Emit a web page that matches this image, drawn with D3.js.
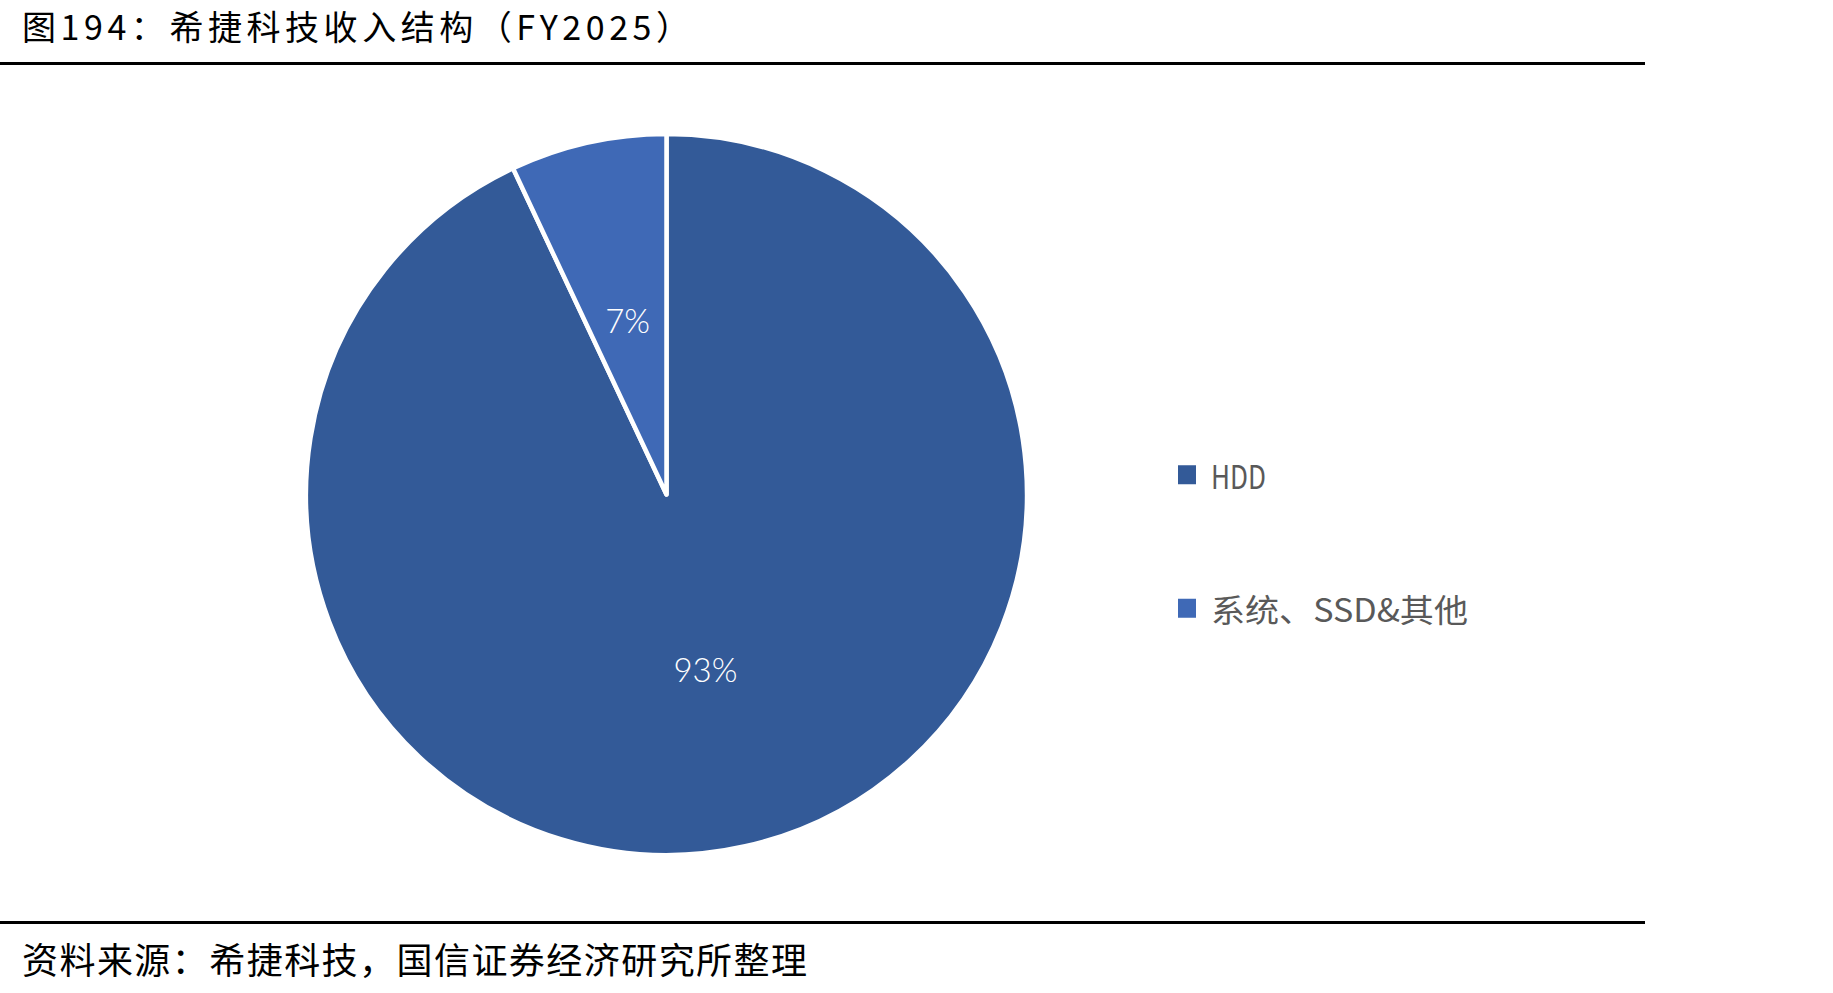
<!DOCTYPE html>
<html>
<head>
<meta charset="utf-8">
<script src="https://cdn.jsdelivr.net/npm/d3@7"></script>
<style>
  html, body { margin: 0; padding: 0; background: #fff; }
  svg { display: block; }
</style>
</head>
<body>
<div class="chart"></div>
<script>
// data
const categories = ["HDD", "系统、SSD&其他"];
const shares = [93, 7];
const labels = ["93%", "7%"];
const colors = ["#335A98", "#3F69B6"];
const legendWidths = [55, 257];

const titleText = "图194：希捷科技收入结构（FY2025）";
const sourceText = "资料来源：希捷科技，国信证券经济研究所整理";

const W = 1833, H = 993;
const cjk = "'Noto Sans CJK SC', 'Noto Sans', sans-serif";

var svg = d3.select(".chart")
  .append("svg")
  .attr("width", W)
  .attr("height", H);

//** title + rules */
svg.append("text")
  .attr("x", 22)
  .attr("y", 40)
  .style("font-family", cjk)
  .style("font-size", "34px")
  .attr("fill", "#000")
  .attr("textLength", 668)
  .text(titleText);

svg.append("line")
  .attr("x1", 0).attr("x2", 1645)
  .attr("y1", 63.5).attr("y2", 63.5)
  .attr("stroke", "#000").attr("stroke-width", 3);

svg.append("line")
  .attr("x1", 0).attr("x2", 1645)
  .attr("y1", 922.5).attr("y2", 922.5)
  .attr("stroke", "#000").attr("stroke-width", 3);

svg.append("text")
  .attr("x", 22)
  .attr("y", 958)
  .attr("dominant-baseline", "central")
  .style("font-family", cjk)
  .style("font-size", "36px")
  .attr("fill", "#000")
  .attr("textLength", 785)
  .text(sourceText);

//** pie */
const cx = 666.5, cy = 494.5, r = 360.5;

const pie = d3.pie().sort(null).value(d => d);
const arcs = pie(shares);
const arc = d3.arc().innerRadius(0).outerRadius(r);
const labelArc = d3.arc().innerRadius(r * 0.495).outerRadius(r * 0.495);

const g = svg.append("g").attr("transform", `translate(${cx},${cy})`);

g.selectAll("path.slice")
  .data(arcs)
  .enter()
  .append("path")
  .attr("class", "slice")
  .attr("d", arc)
  .attr("fill", (d, i) => colors[i])
  .attr("stroke", "#fff")
  .attr("stroke-width", 4.5)
  .attr("stroke-linejoin", "round");

g.selectAll("text.lbl")
  .data(arcs)
  .enter()
  .append("text")
  .attr("class", "lbl")
  .attr("transform", d => `translate(${labelArc.centroid(d)})`)
  .attr("text-anchor", "middle")
  .attr("dominant-baseline", "central")
  .style("font-family", "Lato, 'Open Sans', sans-serif")
  .style("font-weight", 300)
  .style("font-size", "33px")
  .attr("fill", "#fff")
  .text((d, i) => labels[i]);

//** legend */
const legendY = d3.scaleBand()
  .domain(categories)
  .range([408, 675]);

const lg = svg.append("g");
const item = lg.selectAll("g.item")
  .data(categories)
  .enter()
  .append("g")
  .attr("class", "item")
  .attr("transform", d => `translate(1178,${legendY(d) + legendY.bandwidth() / 2})`);

item.append("rect")
  .attr("x", 0).attr("y", -9.5)
  .attr("width", 18).attr("height", 19)
  .attr("fill", (d, i) => colors[i]);

item.append("text")
  .attr("x", 33)
  .attr("y", 0)
  .attr("dominant-baseline", "central")
  .style("font-family", cjk)
  .style("font-size", "32px")
  .attr("fill", "#595959")
  .attr("textLength", (d, i) => legendWidths[i])
  .attr("lengthAdjust", "spacingAndGlyphs")
  .text(d => d);
</script>
</body>
</html>
